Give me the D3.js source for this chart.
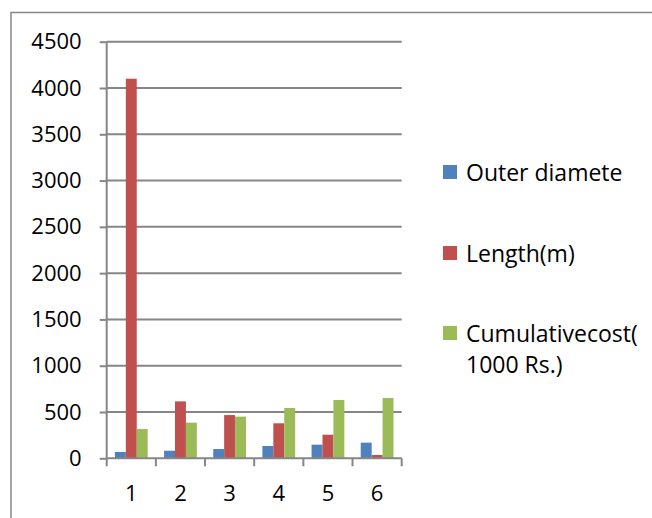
<!DOCTYPE html>
<html><head><meta charset="utf-8">
<script src="https://cdn.jsdelivr.net/npm/d3@7"></script>
<style>body{margin:0;background:#fff;overflow:hidden;} svg{display:block;font-family:"Open Sans", sans-serif;}</style>
</head><body>
<script>
const categories = ["1","2","3","4","5","6"];
const seriesNames = ["Outer diamete", "Length(m)", "Cumulativecost(\n1000 Rs.)"];
const outerDiameter = [68, 82, 100, 133, 147, 169];
const lengthM = [4100, 615, 467, 378, 255, 36];
const cumulativeCost = [316, 385, 450, 543, 630, 651];
const yTicks = [0, 500, 1000, 1500, 2000, 2500, 3000, 3500, 4000, 4500];
const colors = ["#4F81BD", "#C0504D", "#9BBB59"];

const W = 652, H = 518;
const FS = 22, LFS = 23;
const svg = d3.select("body").append("svg").attr("width", W).attr("height", H);

// outer border (top & left visible)
svg.append("path").attr("d", `M11,${H}V12.5H${W}`)
  .attr("fill", "none").attr("stroke", "#868686").attr("stroke-width", 1.5);

const x0 = d3.scaleBand().domain(categories).range([106.7, 401.7]).padding(0);
const x1 = d3.scaleBand().domain(d3.range(3)).range([0, x0.bandwidth()]).paddingOuter(0.75).paddingInner(0);
const y = d3.scaleLinear().domain([0, 4500]).range([458.3, 41.7]);

// gridlines
svg.append("g").selectAll("line").data(yTicks.slice(1)).join("line")
  .attr("x1", 106.7).attr("x2", 401.7)
  .attr("y1", d => y(d)).attr("y2", d => y(d))
  .attr("stroke", "#868686").attr("stroke-width", 2);

// bars
const series = [outerDiameter, lengthM, cumulativeCost];
const g = svg.append("g");
categories.forEach((c, i) => {
  series.forEach((s, j) => {
    g.append("rect")
      .attr("x", x0(c) + x1(j))
      .attr("width", x1.bandwidth())
      .attr("y", y(s[i]))
      .attr("height", y(0) - y(s[i]))
      .attr("fill", colors[j]);
  });
});

// y axis
const yAxis = d3.axisLeft(y).tickValues(yTicks).tickSize(7).tickPadding(18).tickFormat(d3.format("d"));
const ya = svg.append("g").attr("transform", "translate(106.7,0)").call(yAxis);
ya.select(".domain").remove();
ya.append("line").attr("x1", 0).attr("x2", 0).attr("y1", y(4500)).attr("y2", y(0)).attr("stroke", "#868686").attr("stroke-width", 2);
ya.selectAll(".tick line").attr("stroke", "#868686").attr("stroke-width", 2);
ya.selectAll(".tick text").attr("font-size", FS).attr("fill", "#000").attr("font-family", "Open Sans");

// x axis
const xa = svg.append("g").attr("transform", `translate(0,${y(0)})`);
xa.append("line").attr("x1", 106.7).attr("x2", 401.7).attr("stroke", "#868686").attr("stroke-width", 2);
const bounds = d3.range(categories.length + 1).map(i => 106.7 + i * x0.step());
xa.selectAll(".xt").data(bounds).join("line").attr("class", "xt")
  .attr("x1", d => d).attr("x2", d => d).attr("y1", 0).attr("y2", 8)
  .attr("stroke", "#868686").attr("stroke-width", 2);
xa.selectAll(".xl").data(categories).join("text").attr("class", "xl")
  .attr("x", d => x0(d) + x0.bandwidth() / 2).attr("y", 42.5)
  .attr("text-anchor", "middle").attr("font-size", FS).attr("fill", "#000").text(d => d);

// legend
const legY = [172, 253, 333];
const leg = svg.append("g");
seriesNames.forEach((n, i) => {
  leg.append("rect").attr("x", 443).attr("y", legY[i] - 7).attr("width", 14).attr("height", 14).attr("fill", colors[i]);
  const lines = n.split("\n");
  lines.forEach((l, k) => {
    leg.append("text").attr("x", 466).attr("y", legY[i] + 9 + k * 31)
      .attr("font-size", LFS).attr("fill", "#000").text(l);
  });
});
</script>
</body></html>
